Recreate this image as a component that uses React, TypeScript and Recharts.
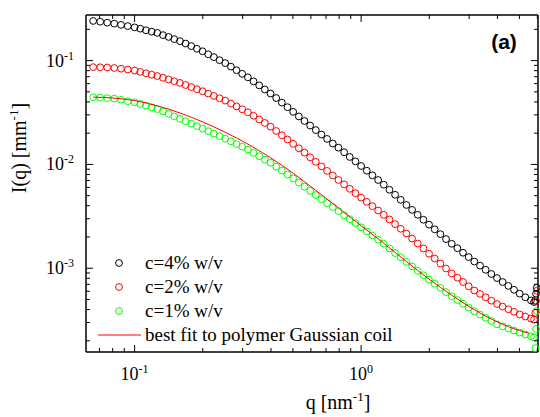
import React from 'react'
import { ComposedChart, Scatter, XAxis, YAxis, Legend } from 'recharts'

// scattering vector q [nm^-1], shared by the three measured curves
const q = [
  0.0656, 0.0705, 0.0757, 0.0813, 0.0871, 0.0933,
  0.1, 0.1059, 0.1122, 0.1189, 0.1259, 0.1334, 0.1413, 0.1496, 0.1585, 0.1679,
  0.1778, 0.1884, 0.1995, 0.2113, 0.2239, 0.2371, 0.2512, 0.2661, 0.2818, 0.2985,
  0.3162, 0.335, 0.3548, 0.3758, 0.3981, 0.4217, 0.4467, 0.4732, 0.5012, 0.5309,
  0.5623, 0.5957, 0.631, 0.6683, 0.7079, 0.7499, 0.7943, 0.8414, 0.8913, 0.9441,
  1.0, 1.059, 1.122, 1.189, 1.259, 1.334, 1.413, 1.496, 1.585, 1.679,
  1.778, 1.884, 1.995, 2.113, 2.239, 2.371, 2.512, 2.661, 2.818, 2.985,
  3.162, 3.35, 3.548, 3.758, 3.981, 4.217, 4.467, 4.732, 5.012, 5.309, 5.623,
  5.8, 5.88, 5.92, 5.96,
]

// I(q) [mm^-1]
const c4 = [
  0.241, 0.237, 0.232, 0.227, 0.221, 0.215,
  0.209, 0.203, 0.196, 0.19, 0.185, 0.176, 0.169, 0.161, 0.154, 0.146,
  0.138, 0.13, 0.123, 0.115, 0.108, 0.101, 0.0946, 0.0875, 0.0808, 0.0746,
  0.069, 0.0631, 0.0577, 0.0527, 0.0482, 0.0436, 0.0394, 0.0356, 0.0321, 0.029,
  0.0262, 0.0237, 0.0214, 0.0194, 0.0176, 0.0159, 0.0145, 0.0131, 0.0118, 0.0107,
  0.00966, 0.00871, 0.00785, 0.00708, 0.00638, 0.0057, 0.0051, 0.00456, 0.00407, 0.00365,
  0.00327, 0.00293, 0.00263, 0.00237, 0.00213, 0.00191, 0.00172, 0.00156, 0.00141, 0.00128,
  0.00116, 0.00106, 0.000966, 0.000881, 0.000804, 0.000737, 0.000676, 0.00062, 0.000569, 0.000525, 0.00049,
  0.000473, 0.000485, 0.000568, 0.000649,
]
const c2 = [
  0.0865, 0.0863, 0.0859, 0.0849, 0.0836, 0.082,
  0.0802, 0.0778, 0.0755, 0.0731, 0.071, 0.0683, 0.0658, 0.0633, 0.061, 0.0582,
  0.0556, 0.0531, 0.0507, 0.0481, 0.0457, 0.0434, 0.0412, 0.0386, 0.0362, 0.034,
  0.0318, 0.0294, 0.0271, 0.0251, 0.0231, 0.021, 0.0191, 0.0174, 0.0158, 0.0143,
  0.013, 0.0117, 0.0106, 0.00957, 0.00866, 0.00783, 0.00708, 0.00642, 0.00582, 0.00528,
  0.00479, 0.00436, 0.00396, 0.0036, 0.00327, 0.00295, 0.00266, 0.0024, 0.00216, 0.00193,
  0.00173, 0.00155, 0.00138, 0.00124, 0.00111, 0.000994, 0.000891, 0.000811, 0.000737, 0.00067,
  0.00061, 0.000566, 0.000525, 0.000487, 0.000452, 0.000427, 0.000403, 0.00038, 0.000359, 0.000343, 0.000327,
  0.00032, 0.000372, 0.000485, 0.000607,
]
const c1 = [
  0.0444, 0.044, 0.0435, 0.043, 0.042, 0.0407,
  0.0397, 0.0382, 0.0368, 0.0354, 0.0341, 0.0324, 0.0307, 0.029, 0.0275, 0.0261,
  0.0247, 0.0234, 0.0221, 0.0209, 0.0198, 0.0187, 0.0177, 0.0167, 0.0157, 0.0148,
  0.0139, 0.0129, 0.012, 0.0111, 0.0104, 0.0095, 0.00871, 0.00799, 0.00733, 0.00668,
  0.0061, 0.00556, 0.00507, 0.00463, 0.00424, 0.00388, 0.00355, 0.00324, 0.00297, 0.00272,
  0.00248, 0.00226, 0.00207, 0.00188, 0.00172, 0.00155, 0.0014, 0.00127, 0.00115, 0.00104,
  0.000944, 0.000856, 0.000776, 0.000708, 0.000646, 0.000589, 0.000537, 0.000494, 0.000455, 0.000418,
  0.000385, 0.000358, 0.000333, 0.00031, 0.000288, 0.000275, 0.000263, 0.000251, 0.00024, 0.00023, 0.000221,
  0.000216, 0.00017, 0.00026, 0.000388,
]

// Gaussian coil fit to c=1%
const fitQ = [0.0656, 0.0794, 0.1, 0.1259, 0.1585, 0.1995, 0.2512, 0.3162, 0.3981, 0.5012, 0.631, 0.7943, 1.0, 1.259, 1.585, 1.995, 2.512, 3.162, 3.981, 5.012, 5.495]
const fitI = [0.0445, 0.0437, 0.0412, 0.0367, 0.0313, 0.0257, 0.0204, 0.0157, 0.0116, 0.00822, 0.00562, 0.0038, 0.00257, 0.00174, 0.00116, 0.000785, 0.00055, 0.000398, 0.000305, 0.000251, 0.000237]

const xTicks = [0.07, 0.08, 0.09, 0.1, 0.2, 0.3, 0.4, 0.5, 0.6, 0.7, 0.8, 0.9, 1, 2, 3, 4, 5, 6]
const yTicks = [
  0.0002, 0.0003, 0.0004, 0.0005, 0.0006, 0.0007, 0.0008, 0.0009,
  0.001, 0.002, 0.003, 0.004, 0.005, 0.006, 0.007, 0.008, 0.009,
  0.01, 0.02, 0.03, 0.04, 0.05, 0.06, 0.07, 0.08, 0.09, 0.1, 0.2,
]

const SERIES = [
  { name: 'c=4% w/v', color: '#000000', values: c4 },
  { name: 'c=2% w/v', color: '#ff0000', values: c2 },
  { name: 'c=1% w/v', color: '#00ff00', values: c1 },
]
const FIT_NAME = 'best fit to polymer Gaussian coil'
const NAMES = [...SERIES.map((s) => s.name), FIT_NAME]

const X_DOMAIN = [0.061, 6.04]
const Y_DOMAIN = [0.000156, 0.275]
const SERIF = '"Liberation Serif", "Times New Roman", serif'

// plot frame (chart margins + axis sizes below)
const PLOT_TOP = 15
const PLOT_RIGHT = 538

const isMajor = (v: number) => Math.abs(Math.log10(v) - Math.round(Math.log10(v))) < 1e-6
const exp = (v: number) => String(Math.round(Math.log10(v)))

const Pow = ({ v }: { v: number }) => (
  <>
    10<tspan dy={-7} fontSize={12}>{exp(v)}</tspan>
  </>
)

// bottom ticks point inward, mirrored on the top edge
const BottomTick = ({ x, y, payload }: any) => {
  const major = isMajor(payload.value)
  const len = major ? 7 : 4
  return (
    <g>
      <line x1={x} x2={x} y1={y} y2={y - len} stroke="#000" />
      <line x1={x} x2={x} y1={PLOT_TOP} y2={PLOT_TOP + len} stroke="#000" />
      {major && (
        <text x={x} y={y + 28} textAnchor="middle" fontFamily={SERIF} fontSize={18} fill="#000">
          <Pow v={payload.value} />
        </text>
      )}
    </g>
  )
}

// left ticks point inward, mirrored on the right edge
const LeftTick = ({ x, y, payload }: any) => {
  const major = isMajor(payload.value)
  const len = major ? 7 : 4
  return (
    <g>
      <line x1={x} x2={x + len} y1={y} y2={y} stroke="#000" />
      <line x1={PLOT_RIGHT} x2={PLOT_RIGHT - len} y1={y} y2={y} stroke="#000" />
      {major && (
        <text x={x - 12} y={y + 6} textAnchor="end" fontFamily={SERIF} fontSize={18} fill="#000">
          <Pow v={payload.value} />
        </text>
      )}
    </g>
  )
}

// x title, plus the top/right frame edges and the panel tag
const XTitle = ({ viewBox }: any) => {
  const left = viewBox ? viewBox.x : 86
  const bottom = viewBox ? viewBox.y : 352
  return (
    <g>
      <line x1={left} x2={PLOT_RIGHT} y1={PLOT_TOP} y2={PLOT_TOP} stroke="#000" strokeWidth={1.5} />
      <line x1={PLOT_RIGHT} x2={PLOT_RIGHT} y1={PLOT_TOP} y2={bottom} stroke="#000" strokeWidth={1.5} />
      <text x={338} y={409} textAnchor="middle" fontFamily={SERIF} fontSize={20} fill="#000">
        q [nm<tspan dy={-8} fontSize={13}>-1</tspan>
        <tspan dy={8}>]</tspan>
      </text>
      <text x={504} y={49} textAnchor="middle" fontFamily='"Liberation Sans", Arial, sans-serif' fontWeight="bold" fontSize={21} fill="#000">
        (a)
      </text>
    </g>
  )
}

const YTitle = () => (
  <text transform="translate(26,148) rotate(-90)" textAnchor="middle" fontFamily={SERIF} fontSize={20} fill="#000">
    I(q) [mm<tspan dy={-8} fontSize={13}>-1</tspan>
    <tspan dy={8}>]</tspan>
  </text>
)

const LegendBox = ({ payload }: any) => {
  const items = [...(payload || [])].sort((a: any, b: any) => NAMES.indexOf(a.value) - NAMES.indexOf(b.value))
  return (
    <svg width={330} height={96}>
      {items.map((entry: any, i: number) => {
        const cy = 12 + i * 24
        const s = SERIES.find((d) => d.name === entry.value)
        return (
          <g key={entry.value}>
            {s ? (
              <circle cx={29} cy={cy} r={3.4} fill="none" stroke={s.color} strokeWidth={1} />
            ) : (
              <line x1={8} x2={51} y1={cy} y2={cy} stroke="#ff0000" strokeWidth={1} />
            )}
            <text x={55} y={cy + 6} fontFamily={SERIF} fontSize={19} fill="#000">
              {entry.value}
            </text>
          </g>
        )
      })}
    </svg>
  )
}

const ring = (color: string) => (props: any) => (
  <circle cx={props.cx} cy={props.cy} r={3.4} fill="none" stroke={color} strokeWidth={1} />
)

export default function App() {
  const fitData = fitQ.map((x, i) => ({ q: x, I: fitI[i] }))
  return (
    <div style={{ position: 'absolute', left: 0, top: 0, width: 540, height: 417, background: '#fff' }}>
      <ComposedChart width={540} height={417} margin={{ top: PLOT_TOP, right: 540 - PLOT_RIGHT, bottom: 0, left: 0 }}>
        <XAxis
          dataKey="q"
          type="number"
          scale="log"
          domain={X_DOMAIN}
          ticks={xTicks}
          interval={0}
          height={65}
          tickSize={0}
          tickMargin={0}
          tickLine={false}
          axisLine={{ stroke: '#000', strokeWidth: 1.5 }}
          tick={<BottomTick />}
          label={<XTitle />}
        />
        <YAxis
          dataKey="I"
          type="number"
          scale="log"
          domain={Y_DOMAIN}
          ticks={yTicks}
          interval={0}
          width={86}
          tickSize={0}
          tickMargin={0}
          tickLine={false}
          axisLine={{ stroke: '#000', strokeWidth: 1.5 }}
          tick={<LeftTick />}
          label={<YTitle />}
        />
        <Legend
          layout="vertical"
          align="center"
          verticalAlign="middle"
          content={<LegendBox />}
          wrapperStyle={{ left: 90, top: 251, width: 330, height: 96 }}
        />
        {SERIES.map((s) => (
          <Scatter
            key={s.name}
            name={s.name}
            data={q.map((x, i) => ({ q: x, I: s.values[i] }))}
            shape={ring(s.color)}
            isAnimationActive={false}
          />
        ))}
        <Scatter
          name={FIT_NAME}
          data={fitData}
          line={{ stroke: '#ff0000', strokeWidth: 1 }}
          lineJointType="monotoneX"
          shape={() => <g />}
          isAnimationActive={false}
        />
      </ComposedChart>
    </div>
  )
}
